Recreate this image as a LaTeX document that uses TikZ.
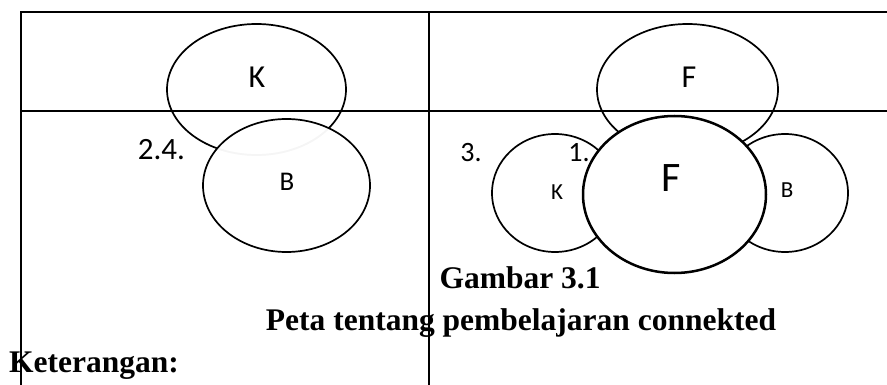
\documentclass[tikz,border=0pt]{standalone}
\usepackage{fontspec}
\setmainfont{Liberation Serif}
\newfontfamily\lblfont{Carlito}
\usetikzlibrary{shapes.geometric}
\tikzset{
  tline/.style={line width=1.9pt, black},
  oval/.style={ellipse, draw=black, line width=1.7pt, inner sep=0pt},
  bigoval/.style={ellipse, draw=black, line width=2.5pt, inner sep=0pt, fill=white},
  lbl/.style={inner sep=0pt, font=\lblfont},
  captxt/.style={inner sep=0pt, font=\fontsize{31.5}{36}\selectfont\bfseries, anchor=base},
}
\begin{document}
\begin{tikzpicture}[x=1pt, y=-1pt]
\useasboundingbox (0,0) rectangle (887,385);
% table
\coordinate (tl) at (21,12.3);
\coordinate (tr) at (887,12.3);
\coordinate (ml) at (21,110.7);
\coordinate (mr) at (887,110.7);
\coordinate (bl) at (21,385);
\coordinate (tm) at (429,12.3);
\coordinate (bm) at (429,385);
\draw[tline] (tr) -- (tl) -- (bl);
\draw[tline] (ml) -- (mr);
\draw[tline] (tm) -- (bm);
% left cell
\node[oval, minimum width=179pt, minimum height=131pt] (ovK) at (256.5,89.5) {};
\node[oval, fill=white, fill opacity=0.96, minimum width=167pt, minimum height=133pt] (ovB) at (286.5,185.5) {};
\node[lbl, font=\lblfont\fontsize{32}{38}\selectfont] (tK) at (257,77) {K};
\node[lbl, font=\lblfont\fontsize{27}{32}\selectfont] (tB) at (287,182) {B};
\node[lbl, font=\lblfont\fontsize{31}{36}\selectfont] (n24) at (161.5,150) {2.4.};
% right cell
\node[oval, minimum width=181pt, minimum height=131pt] (ovF) at (687.5,89.5) {};
\node[oval, minimum width=126pt, minimum height=118pt] (ovK2) at (555,193) {};
\node[oval, minimum width=126pt, minimum height=118pt] (ovB2) at (785,193) {};
\node[bigoval, minimum width=183pt, minimum height=157pt] (ovF2) at (674.5,194.5) {};
\node[lbl, font=\lblfont\fontsize{32}{38}\selectfont] (tF) at (689,77) {F};
\node[lbl, font=\lblfont\fontsize{42}{48}\selectfont] (tF2) at (671,178) {F};
\node[lbl, font=\lblfont\fontsize{23}{28}\selectfont] (tK2) at (557,192) {K};
\node[lbl, font=\lblfont\fontsize{23}{28}\selectfont] (tB2) at (787,190) {B};
\node[lbl, font=\lblfont\fontsize{28}{33}\selectfont] (n3) at (471,152.5) {3.};
\node[lbl, font=\lblfont\fontsize{28}{33}\selectfont] (n1) at (579,152.5) {1.};
% captions
\node[captxt] (gam) at (520,288) {Gambar 3.1};
\node[captxt] (peta) at (521,330) {Peta tentang pembelajaran connekted};
\node[captxt, anchor=base west] (ket) at (9,372) {Keterangan:};
\draw[tline] (tm) -- (bm);
\draw[tline] (ml) -- (bl);
\end{tikzpicture}
\end{document}
